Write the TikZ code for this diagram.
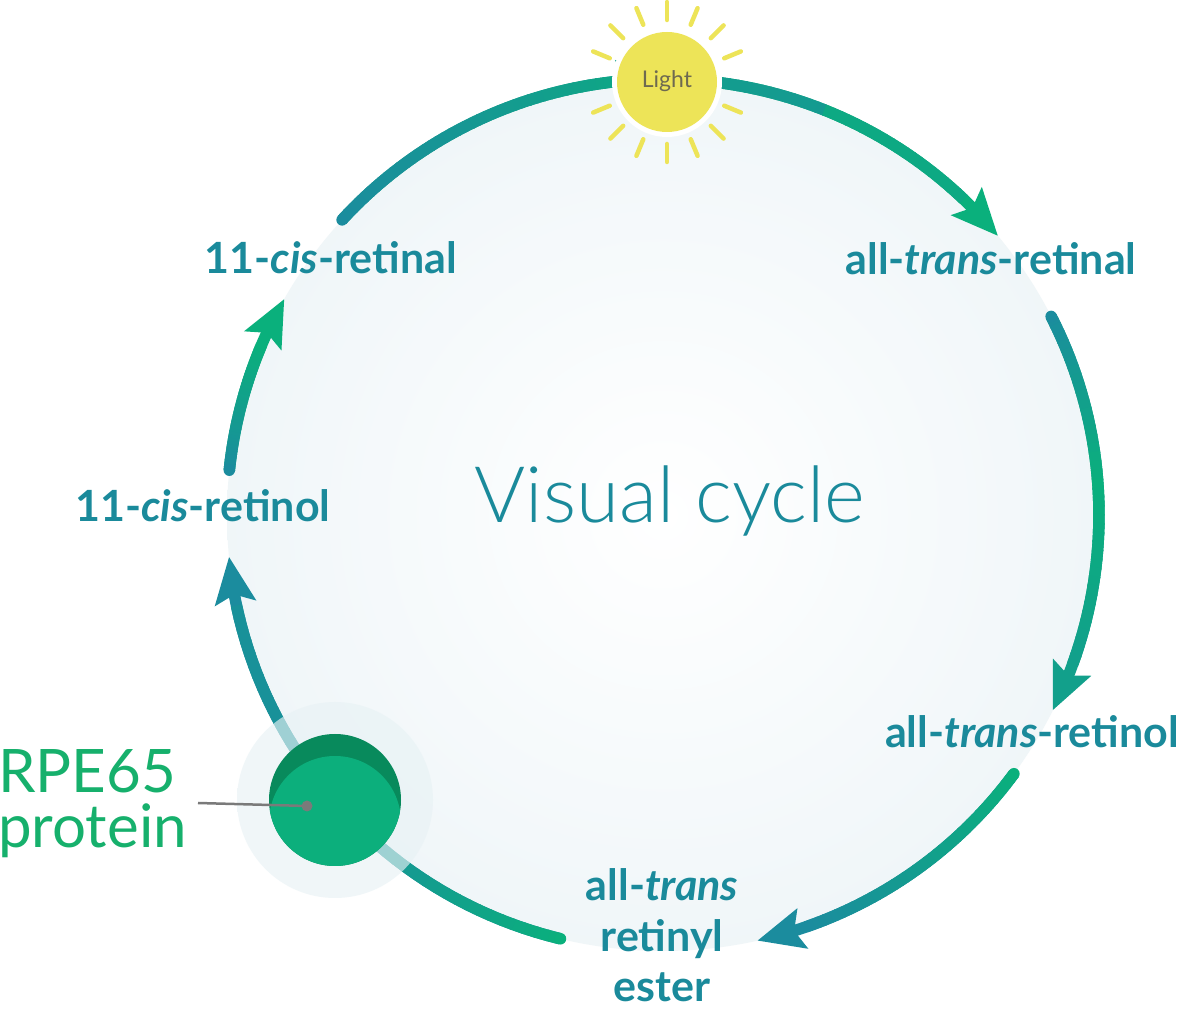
\documentclass[tikz,border=0pt]{standalone}
\usepackage{fontspec}
\setmainfont{Lato}
\IfFontExistsTF{Lato Light}{\newfontfamily\lightfont{Lato Light}}{\newfontfamily\lightfont{Lato}}
\usetikzlibrary{arrows.meta,bending}

\definecolor{vteal}{RGB}{27,140,158}
\definecolor{vgreen}{RGB}{10,176,124}
\definecolor{labteal}{RGB}{26,138,155}
\definecolor{rpegreen}{RGB}{22,176,108}
\definecolor{cirgreen}{RGB}{12,175,124}
\definecolor{cirdark}{RGB}{8,138,92}
\definecolor{sunyel}{RGB}{237,228,88}
\definecolor{suntext}{RGB}{110,106,80}
\definecolor{diskedge}{RGB}{224,236,240}
\definecolor{diskmid}{RGB}{243,248,250}
\definecolor{haloout}{RGB}{192,218,224}
\definecolor{haloin}{RGB}{232,242,245}
\definecolor{pointgray}{RGB}{122,122,122}

\pgfdeclareradialshading{diskshade}{\pgfpoint{0bp}{0bp}}{color(0bp)=(white); color(20bp)=(diskmid); color(50bp)=(diskedge)}
\pgfdeclareradialshading{haloshade}{\pgfpoint{0bp}{0bp}}{color(0bp)=(haloin); color(34bp)=(haloin); color(50bp)=(haloout)}

\def\cx{663}\def\cy{495}\def\R{436}

% #1 start angle, #2 tip angle, #3 start colour, #4 middle colour, #5 end colour
\newcommand\gradarc[5]{%
  \draw[arcline, draw=#5, -{Stealth[length=46pt,width=40pt,inset=8pt]}]
     ({\cx+\R*cos(#1)},{\cy+\R*sin(#1)}) arc[start angle=#1, end angle=#2, radius=\R];
  \pgfmathsetmacro\angEnd{#2+((#1>#2)?6.8:-6.8)}%
  \foreach \i in {1,...,40}{%
    \pgfmathsetmacro\angA{#1+(\angEnd-#1)*(\i-1)/40}%
    \pgfmathsetmacro\angB{#1+(\angEnd-#1)*(\i+0.2)/40}%
    \ifnum\i<21
      \pgfmathtruncatemacro\mixq{5*\i}\edef\col{#4!\mixq!#3}%
    \else
      \pgfmathtruncatemacro\mixq{5*(\i-20)}\edef\col{#5!\mixq!#4}%
    \fi
    \draw[line width=11.5pt, line cap=butt, draw=\col]
      ({\cx+\R*cos(\angA)},{\cy+\R*sin(\angA)}) arc[start angle=\angA, end angle=\angB, radius=\R];
  }%
  \fill[#3] ({\cx+\R*cos(#1)},{\cy+\R*sin(#1)}) circle (5.75pt);
}

\tikzset{
  arcline/.style={line width=11.5pt, line cap=butt},
  lab/.style={text=labteal, font=\fontsize{43}{52}\selectfont\bfseries, anchor=base, inner sep=0pt},
  ray/.style={draw=sunyel, line width=4.5pt, line cap=round},
  rpetext/.style={text=rpegreen, font=\fontsize{60}{55}\selectfont, anchor=base west, inner sep=0pt},
}

\begin{document}
\begin{tikzpicture}[x=1pt,y=1pt]
\useasboundingbox (0,0) rectangle (1184,1010);
\fill[white] (0,0) rectangle (1184,1010);

\coordinate (C) at (\cx,\cy);
% disk
\shade[shading=diskshade] (C) circle (\R);

% arcs
\gradarc{90}{39.8}{vgreen!50!vteal}{vgreen!80!vteal}{vgreen}
\gradarc{27.1}{-26.6}{vteal}{vgreen}{vgreen!55!vteal}
\gradarc{-36.4}{-77.5}{vgreen}{vgreen!50!vteal}{vteal}
\gradarc{256.4}{185.5}{vgreen}{vteal!85!vgreen}{vteal}
\gradarc{174.1}{150.3}{vteal}{vteal!50!vgreen}{vgreen}
\gradarc{137.4}{90}{vteal}{vteal!70!vgreen}{vteal!45!vgreen}

% RPE65 protein
\coordinate (P) at (335,210);
\shade[shading=haloshade, opacity=0.65] (P) circle (98);
\fill[cirdark] (P) circle (66);
\begin{scope}
  \clip (P) circle (66);
  \fill[cirgreen] ([yshift=-22pt]P) circle (66);
\end{scope}
\coordinate (dot) at (307,204);
\coordinate (lineend) at (198,207);
\draw[pointgray, line width=2.5pt] (lineend) -- (dot);
\fill[pointgray] (dot) circle (5.5);

\node[rpetext] (rpe) at (-2,217) {RPE65};
\node[rpetext] (prot) at (-2,162) {protein};

% sun
\coordinate (S) at (667,928);
\fill[white] (S) circle (55);
\fill[sunyel] (S) circle (50);
\foreach \k in {1,...,7,9,10,...,15}{
  \draw[ray] ([shift={(\k*22.5:62)}]S) -- ([shift={(\k*22.5:80)}]S);
}
\node[text=suntext, font=\fontsize{23}{26}\selectfont, anchor=base, inner sep=0pt] (light) at (667,922) {Light};

% labels
\node[lab] (cisal) at (331,736) {11-\textit{cis}-retinal};
\node[lab] (transal) at (991,735) {all-\textit{trans}-retinal};
\node[lab] (cisol) at (203,488) {11-\textit{cis}-retinol};
\node[lab] (transol) at (1032,262) {all-\textit{trans}-retinol};
\node[lab] (est1) at (662,109) {all-\textit{trans}};
\node[lab] (est2) at (662,58) {retinyl};
\node[lab] (est3) at (662,9) {ester};

\node[text=labteal, font=\lightfont\fontsize{78}{80}\selectfont, anchor=base, inner sep=0pt] (title) at (670,487) {Visual cycle};
\end{tikzpicture}
\end{document}
